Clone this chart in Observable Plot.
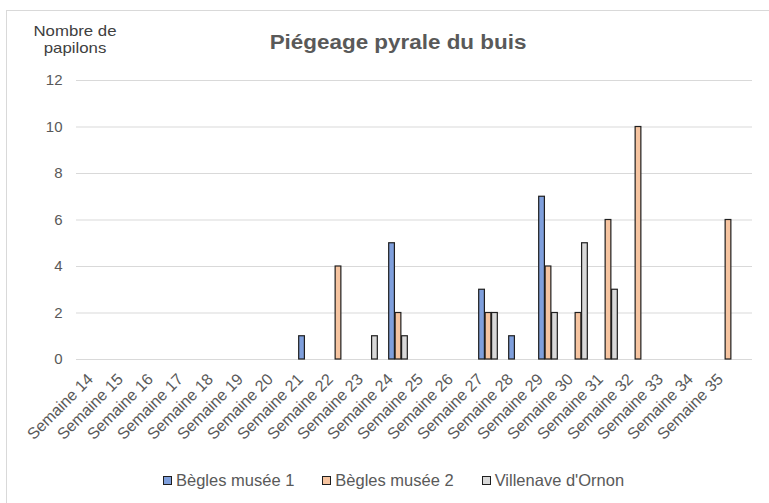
<!DOCTYPE html>
<html>
<head>
<meta charset="utf-8">
<script src="https://cdn.jsdelivr.net/npm/d3@7"></script>
<script src="https://cdn.jsdelivr.net/npm/@observablehq/plot@0.6"></script>
<style>
  html, body { margin: 0; padding: 0; background: #fff; }
  #wrap { position: relative; width: 769px; height: 503px; overflow: hidden; font-family: "Liberation Sans", Arial, sans-serif; }
  #frame { position: absolute; left: 6px; top: 10px; width: 900px; height: 700px; border: 1px solid #d9d9d9; box-sizing: border-box; }
  #chart { position: absolute; left: 0; top: 0; }
  #title { position: absolute; left: 398px; top: 33px; transform: translateX(-50%) scaleX(1.15); font-weight: bold; font-size: 19.5px; color: #595959; white-space: nowrap; line-height: 1; }
  #ytitle { position: absolute; left: 75px; top: 22px; transform: translateX(-50%) scaleX(1.12); font-size: 15px; color: #404040; text-align: center; line-height: 17px; white-space: nowrap; }
  #legend { position: absolute; left: 163px; top: 471px; display: flex; font-size: 16.5px; color: #595959; white-space: nowrap; }
  .item { display: flex; align-items: center; margin-right: 28px; }
  .sw { width: 7px; height: 7px; border: 1.3px solid #1f1f1f; margin-right: 4px; }
</style>
</head>
<body>
<div id="wrap">
  <div id="frame"></div>
  <div id="chart"></div>
  <div id="title">Piégeage pyrale du buis</div>
  <div id="ytitle">Nombre de<br>papilons</div>
  <div id="legend"></div>
</div>
<script>
const weeks = ["Semaine 14","Semaine 15","Semaine 16","Semaine 17","Semaine 18","Semaine 19","Semaine 20","Semaine 21","Semaine 22","Semaine 23","Semaine 24","Semaine 25","Semaine 26","Semaine 27","Semaine 28","Semaine 29","Semaine 30","Semaine 31","Semaine 32","Semaine 33","Semaine 34","Semaine 35"];
const begles1   = [0,0,0,0,0,0,0,1,0,0,5,0,0,3,1,7,0,0,0,0,0,0];
const begles2   = [0,0,0,0,0,0,0,0,4,0,2,0,0,2,0,4,2,6,10,0,0,6];
const villenave = [0,0,0,0,0,0,0,0,0,1,1,0,0,2,0,2,5,3,0,0,0,0];
const seriesNames = ["Bègles musée 1", "Bègles musée 2", "Villenave d'Ornon"];
const seriesColors = ["#7f9fdc", "#f6c4a0", "#d9d9d9"];
const yTicks = [0, 2, 4, 6, 8, 10, 12];

const seriesValues = [begles1, begles2, villenave];

const W = 769, H = 503, mL = 76, mR = 17, mT = 80, mB = 144;
const bw = (W - mL - mR) / weeks.length;
const barW = bw * 0.21;
const groupOffset = (bw - 3 * barW) / 2;

const barMarks = seriesNames.map((name, i) => {
  const rows = weeks.map((w, j) => ({week: w, value: seriesValues[i][j]})).filter(d => d.value > 0);
  const insetLeft = groupOffset + i * barW - 1;
  const insetRight = bw - insetLeft - barW;
  return Plot.barY(rows, {x: "week", y: "value", fill: seriesColors[i], stroke: "#1f1f1f", strokeWidth: 1.2, insetLeft, insetRight});
});

const chart = Plot.plot({
  width: W, height: H,
  marginLeft: mL, marginRight: mR, marginTop: mT, marginBottom: mB,
  style: {fontFamily: "'Liberation Sans', Arial, sans-serif", background: "transparent"},
  x: {domain: weeks, padding: 0, label: null},
  y: {domain: [0, 12], label: null, axis: null},
  marks: [
    Plot.gridY(yTicks, {stroke: "#d9d9d9", strokeOpacity: 1, strokeWidth: 1.2}),
    Plot.text(yTicks, {y: d => d, text: d => String(d), frameAnchor: "left", textAnchor: "end", dx: -14, fontSize: 15, fill: "#595959"}),
    Plot.axisX({tickSize: 0, tickRotate: -45, tickPadding: 16, dx: -9, dy: 1, fontSize: 16, fill: "#595959", label: null}),
    ...barMarks
  ]
});
document.getElementById("chart").appendChild(chart);

const legend = document.getElementById("legend");
seriesNames.forEach((name, i) => {
  const item = document.createElement("div");
  item.className = "item";
  const sw = document.createElement("span");
  sw.className = "sw";
  sw.style.background = seriesColors[i];
  const t = document.createElement("span");
  t.textContent = name;
  item.appendChild(sw);
  item.appendChild(t);
  legend.appendChild(item);
});
</script>
</body>
</html>
